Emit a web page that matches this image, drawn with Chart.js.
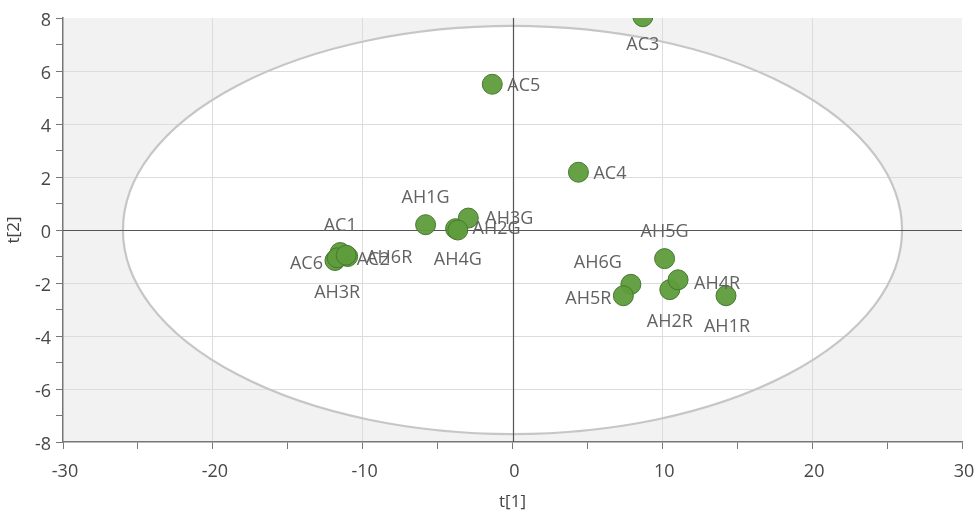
<!DOCTYPE html>
<html>
<head>
<meta charset="utf-8">
<script src="https://cdn.jsdelivr.net/npm/chart.js@4/dist/chart.umd.min.js"></script>
<style>
  html, body { margin: 0; padding: 0; background: #ffffff; }
  #wrap { width: 976px; height: 514px; position: relative; }
</style>
</head>
<body>
<div id="wrap"><canvas id="c" width="976" height="514"></canvas></div>
<script>
// Score plot: sample names with their t[1] / t[2] scores
const sampleNames = ['AC1', 'AC2', 'AC3', 'AC4', 'AC5', 'AC6',
                     'AH1G', 'AH2G', 'AH3G', 'AH4G', 'AH5G', 'AH6G',
                     'AH1R', 'AH2R', 'AH3R', 'AH4R', 'AH5R', 'AH6R'];
const t1Scores = [-11.5, -11.0, 8.7, 4.4, -1.35, -11.85,
                  -5.8, -3.8, -2.95, -3.65, 10.15, 7.9,
                  14.25, 10.5, -11.7, 11.05, 7.4, -11.1];
const t2Scores = [-0.85, -1.0, 8.05, 2.18, 5.5, -1.15,
                  0.2, 0.05, 0.45, 0.0, -1.08, -2.05,
                  -2.48, -2.25, -1.05, -1.88, -2.48, -0.95];

// Hotelling's T2 (95%) ellipse semi-axes in score units
const ellipseT1 = 26.0;
const ellipseT2 = 7.7;

// Axis ranges
const t1Range = [-30, 30];
const t2Range = [-8, 8];

// Where each name sits relative to its marker: [dx, dy, textAlign]
const labelPlacement = {
  AC1: [0, -27, 'center'], AC2: [9, 3, 'left'], AC3: [0, 28, 'center'],
  AC4: [15, 2, 'left'], AC5: [15, 2, 'left'], AC6: [-12, 3, 'right'],
  AH1G: [0, -27, 'center'], AH2G: [17, 0, 'left'], AH3G: [17, 1, 'left'],
  AH4G: [0, 30, 'center'], AH5G: [0, -27, 'center'], AH6G: [-9, -21, 'right'],
  AH1R: [1, 31, 'center'], AH2R: [0, 32, 'center'], AH3R: [0, 35, 'center'],
  AH4R: [16, 4, 'left'], AH5R: [-12, 3, 'right'], AH6R: [20, 3, 'left']
};

const points = sampleNames.map((n, i) => ({ x: t1Scores[i], y: t2Scores[i], name: n }));

const FONT = '"Open Sans", "Noto Sans", sans-serif';

function ellipsePixels(chart) {
  const { x, y } = chart.scales;
  const cx = x.getPixelForValue(0), cy = y.getPixelForValue(0);
  return {
    cx, cy,
    rx: x.getPixelForValue(ellipseT1) - cx,
    ry: cy - y.getPixelForValue(ellipseT2)
  };
}

// Gray chart area with the white interior of the confidence ellipse
const ellipseLayer = {
  id: 'ellipseLayer',
  beforeDraw(chart) {
    const { ctx, chartArea: a } = chart;
    const { cx, cy, rx, ry } = ellipsePixels(chart);
    ctx.save();
    ctx.fillStyle = '#f2f2f2';
    ctx.fillRect(a.left, a.top, a.right - a.left, a.bottom - a.top);
    ctx.beginPath();
    ctx.rect(a.left, a.top, a.right - a.left, a.bottom - a.top);
    ctx.clip();
    ctx.beginPath();
    ctx.ellipse(cx, cy, rx, ry, 0, 0, Math.PI * 2);
    ctx.fillStyle = '#ffffff';
    ctx.fill();
    ctx.restore();
  },
  beforeDatasetsDraw(chart) {
    const { ctx, chartArea: a } = chart;
    const { cx, cy, rx, ry } = ellipsePixels(chart);
    ctx.save();
    ctx.beginPath();
    ctx.rect(a.left, a.top, a.right - a.left, a.bottom - a.top);
    ctx.clip();
    ctx.beginPath();
    ctx.ellipse(cx, cy, rx, ry, 0, 0, Math.PI * 2);
    ctx.strokeStyle = '#c6c6c6';
    ctx.lineWidth = 2.2;
    ctx.stroke();
    // origin cross-hair
    ctx.strokeStyle = '#555555';
    ctx.lineWidth = 1.2;
    ctx.beginPath();
    ctx.moveTo(Math.round(cx) + 0.5, a.top);
    ctx.lineTo(Math.round(cx) + 0.5, a.bottom);
    ctx.moveTo(a.left, Math.round(cy) + 0.5);
    ctx.lineTo(a.right, Math.round(cy) + 0.5);
    ctx.stroke();
    ctx.restore();
  },
  // markers stay inside the plot frame
  beforeDatasetDraw(chart) {
    const { ctx, chartArea: a } = chart;
    ctx.save();
    ctx.beginPath();
    ctx.rect(a.left, a.top, a.right - a.left, a.bottom - a.top);
    ctx.clip();
  },
  afterDatasetDraw(chart) {
    chart.ctx.restore();
  }
};

// Sample names next to each marker
const pointNames = {
  id: 'pointNames',
  afterDatasetsDraw(chart) {
    const { ctx } = chart;
    const meta = chart.getDatasetMeta(0);
    ctx.save();
    ctx.font = '18px ' + FONT;
    ctx.fillStyle = '#626262';
    ctx.textBaseline = 'middle';
    meta.data.forEach((el, i) => {
      const name = sampleNames[i];
      const [dx, dy, align] = labelPlacement[name] || [14, 0, 'left'];
      ctx.textAlign = align;
      ctx.fillText(name, el.x + dx, el.y + dy);
    });
    ctx.restore();
  }
};

new Chart(document.getElementById('c'), {
  type: 'scatter',
  data: {
    datasets: [{
      data: points,
      backgroundColor: 'rgba(94, 156, 60, 0.95)',
      borderColor: '#47782f',
      borderWidth: 1,
      pointRadius: 10,
      pointHoverRadius: 10
    }]
  },
  options: {
    responsive: false,
    animation: false,
    events: [],
    layout: { padding: { top: 18, right: 14, left: 0, bottom: 0 } },
    plugins: { legend: { display: false }, tooltip: { enabled: false } },
    scales: {
      x: {
        type: 'linear',
        min: t1Range[0], max: t1Range[1],
        afterFit(s) { s.height = 72; s.paddingLeft = 0; s.paddingRight = 0; },
        title: { display: true, text: 't[1]', color: '#444444', font: { family: FONT, size: 17 }, padding: { top: 0, bottom: 2 } },
        ticks: {
          stepSize: 5,
          autoSkip: false,
          maxRotation: 0,
          color: '#474747',
          font: { family: FONT, size: 18 },
          padding: 12,
          labelOffset: 2,
          callback: v => (v % 10 === 0 ? String(v) : '')
        },
        grid: {
          color: c => {
            const v = c.tick ? c.tick.value : null;
            if (v === null || v === 0 || Math.abs(v) === 30) return 'rgba(0,0,0,0)';
            return v % 10 === 0 ? '#dcdcdc' : 'rgba(0,0,0,0)';
          },
          tickColor: '#777777',
          tickLength: 7,
          drawTicks: true
        },
        border: { display: true, color: '#777777', width: 1.5 }
      },
      y: {
        type: 'linear',
        min: t2Range[0], max: t2Range[1],
        afterFit(s) { s.width = 63; s.paddingTop = 0; s.paddingBottom = 0; },
        title: { display: true, text: 't[2]', color: '#444444', font: { family: FONT, size: 17 }, padding: { top: 4, bottom: 0 } },
        ticks: {
          stepSize: 1,
          autoSkip: false,
          color: '#474747',
          font: { family: FONT, size: 18 },
          padding: 5,
          labelOffset: 3,
          callback: v => (v % 2 === 0 ? String(v) : '')
        },
        grid: {
          color: c => {
            const v = c.tick ? c.tick.value : null;
            if (v === null || v === 0 || Math.abs(v) === 8) return 'rgba(0,0,0,0)';
            return v % 2 === 0 ? '#dcdcdc' : 'rgba(0,0,0,0)';
          },
          tickColor: '#777777',
          tickLength: 7,
          drawTicks: true
        },
        border: { display: true, color: '#777777', width: 1.5 }
      }
    }
  },
  plugins: [ellipseLayer, pointNames]
});
</script>
</body>
</html>
